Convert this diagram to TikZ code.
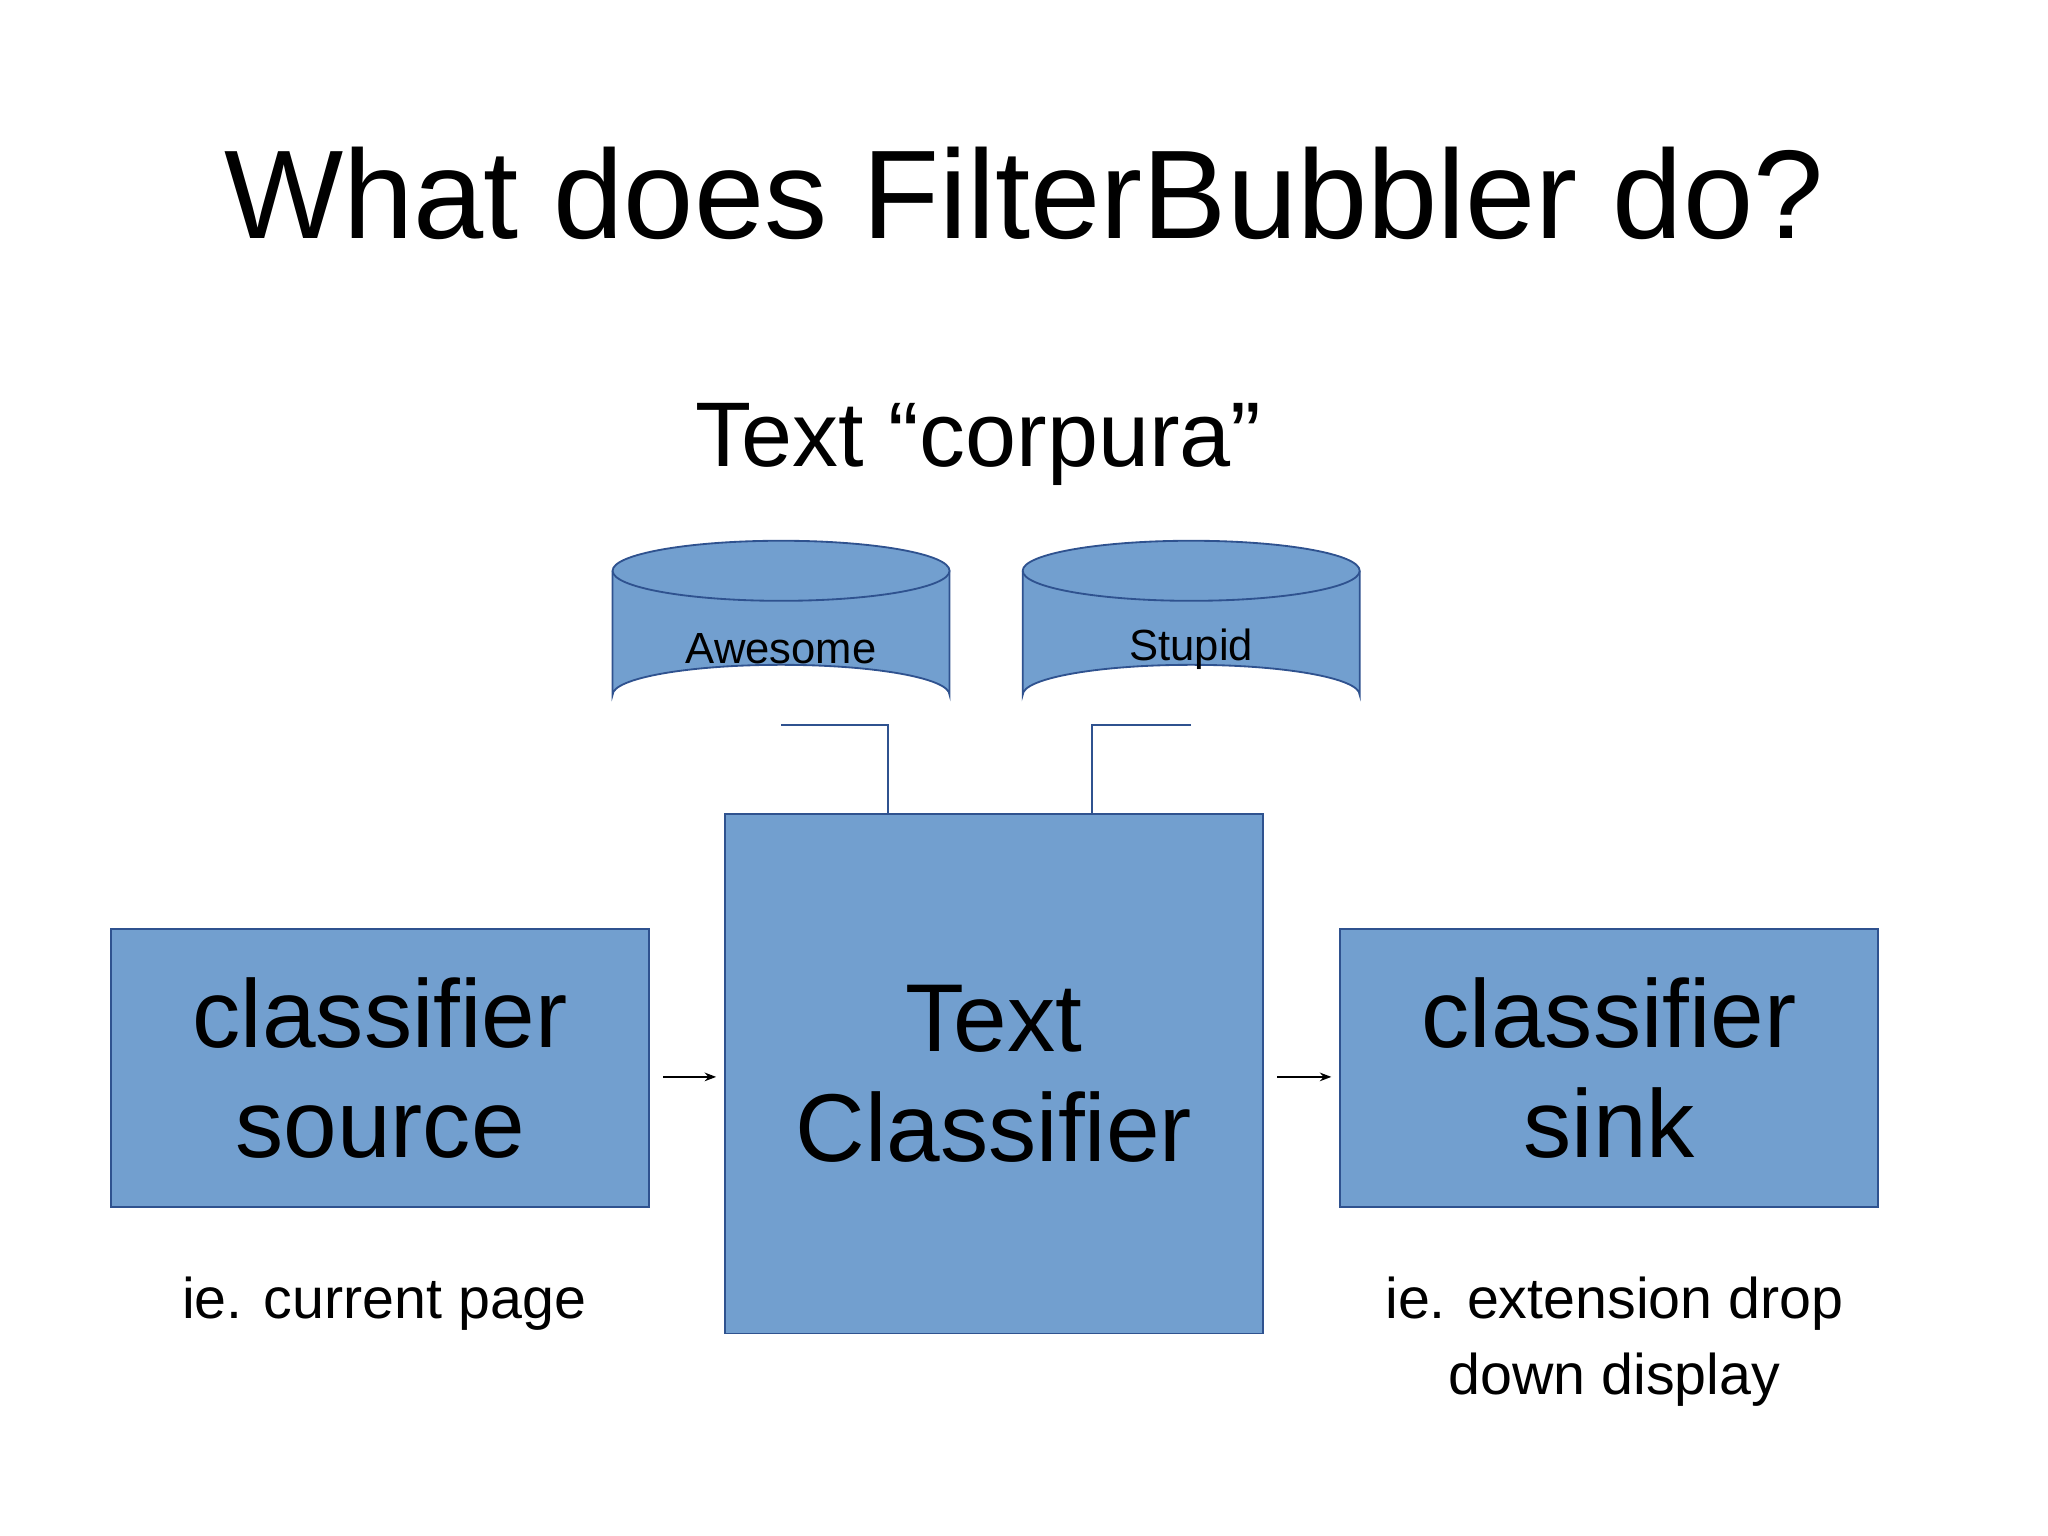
\documentclass[tikz,border=0pt]{standalone}
\usepackage{fontspec}
\setmainfont{Liberation Sans}
\usetikzlibrary{arrows.meta}
\definecolor{bfill}{RGB}{114,159,207}
\definecolor{bline}{RGB}{47,82,143}
\begin{document}
\begin{tikzpicture}[x=0.02cm,y=-0.02cm,
  box/.style={draw=bline,fill=bfill,line width=0.8pt,inner sep=0pt},
  conn/.style={draw=bline,line width=0.8pt},
  arr/.style={-{Stealth[length=5pt]},line width=0.8pt}]
\useasboundingbox (0,0) rectangle (1568,1176);
\node[font=\fontsize{55}{60}\selectfont] (title) at (784,148) {What does FilterBubbler do?};
\node[font=\fontsize{40}{46}\selectfont] (corp) at (749,340) {Text “corpura”};
% cylinders
\foreach \cx/\nm/\lab in {598/aw/Awesome,912/st/Stupid}{
  \fill[bfill] (\cx-129,437) -- (\cx-129,532) arc[start angle=180,end angle=360,x radius=129,y radius=23] -- (\cx+129,437) -- cycle;
  \draw[bline,line width=0.8pt] (\cx-129,437) -- (\cx-129,532) arc[start angle=180,end angle=360,x radius=129,y radius=23] -- (\cx+129,437);
  \draw[bline,fill=bfill,line width=0.8pt] (\cx,437) ellipse[x radius=129,y radius=23];
  \node[font=\fontsize{19}{22}\selectfont] (\nm) at (\cx,497) {\lab};
  \coordinate (\nm b) at (\cx,555);
}
\node[box,minimum width=412*0.02cm,minimum height=213*0.02cm,align=center,font=\fontsize{42}{48}\selectfont] (src) at (291,817.5) {classifier\\source};
\node[box,minimum width=412*0.02cm,minimum height=398*0.02cm,align=center,font=\fontsize{42}{48}\selectfont] (tc) at (761,822) {Text\\Classifier};
\node[box,minimum width=412*0.02cm,minimum height=213*0.02cm,align=center,font=\fontsize{42}{48}\selectfont] (sink) at (1232,817.5) {classifier\\sink};
\draw[conn] (awb) -- (680,555) -- (680,623);
\draw[conn] (stb) -- (836,555) -- (836,623);
\draw[arr] ([xshift=10*0.02cm,yshift=-7*0.02cm]src.east) -- ([xshift=-6*0.02cm,yshift=-7*0.02cm]tc.west |- src.east);
\draw[arr] ([xshift=10*0.02cm,yshift=-7*0.02cm]tc.east |- sink.west) -- ([xshift=-6*0.02cm,yshift=-7*0.02cm]sink.west);
\node[font=\fontsize{25}{32}\selectfont] (l1) at (294,998) {ie. current page};
\node[font=\fontsize{25}{33}\selectfont,align=center] (l2) at (1236,1027) {ie. extension drop\\down display};
\end{tikzpicture}
\end{document}
